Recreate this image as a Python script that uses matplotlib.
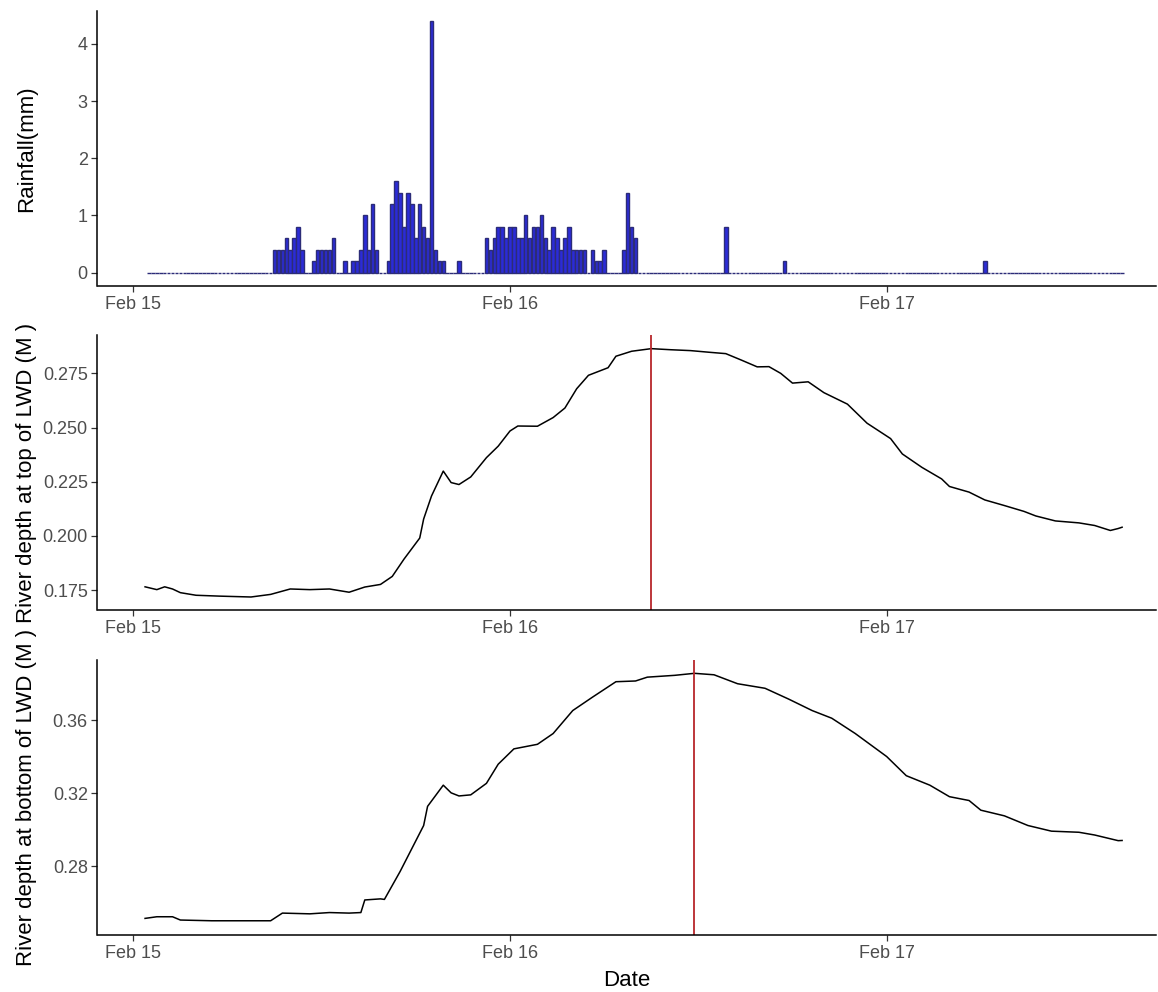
import matplotlib
matplotlib.use('Agg')
import matplotlib.pyplot as plt
import matplotlib.dates as mdates
import pandas as pd

plt.rcParams['font.family'] = ['Liberation Sans', 'DejaVu Sans']

# rainfall, 15 min totals (mm), logger record from 01:00 Feb 15 to 15:00 Feb 17
rain_first = '2019-02-15 01:00'
rain_last = '2019-02-17 15:00'
burst_starts = ['2019-02-15 09:00', '2019-02-15 11:30', '2019-02-15 13:30',
                '2019-02-15 16:15', '2019-02-15 20:45', '2019-02-15 22:30',
                '2019-02-16 07:15', '2019-02-16 13:45', '2019-02-16 17:30',
                '2019-02-17 06:15']
burst_values = [
    [0.4, 0.4, 0.4, 0.6, 0.4, 0.6, 0.8, 0.4],
    [0.2, 0.4, 0.4, 0.4, 0.4, 0.6],
    [0.2, 0, 0.2, 0.2, 0.4, 1.0, 0.4, 1.2, 0.4],
    [0.2, 1.2, 1.6, 1.4, 0.8, 1.4, 1.2, 0.6, 1.2, 0.8, 0.6, 4.4, 0.4, 0.2, 0.2],
    [0.2],
    [0.6, 0.4, 0.6, 0.8, 0.8, 0.6, 0.8, 0.8, 0.6, 0.6, 1.0, 0.6, 0.8, 0.8, 1.0,
     0.6, 0.4, 0.8, 0.6, 0.4, 0.6, 0.8, 0.4, 0.4, 0.4, 0.4, 0, 0.4, 0.2, 0.2, 0.4],
    [0.4, 1.4, 0.8, 0.6],
    [0.8],
    [0.2],
    [0.2],
]

# river depth at top of LWD, hours after Feb 15 00:00
top_hours = [0.75, 1.5, 2.0, 2.5, 3.0, 4.0, 5.5, 7.5, 8.75, 10.0, 11.25, 12.5, 13.75,
             14.75, 15.75, 16.5, 17.25, 18.25, 18.5, 19.0, 19.75, 20.25, 20.75, 21.5,
             22.5, 23.25, 24.0, 24.5, 25.75, 26.75, 27.5, 28.25, 29.0, 30.25, 30.75,
             31.75, 33.0, 34.25, 35.5, 36.75, 37.75, 38.75, 39.75, 40.5, 41.25, 42.0,
             43.0, 44.0, 45.5, 46.75, 48.25, 49.0, 50.25, 51.5, 52.0, 53.25, 54.25,
             55.5, 56.75, 57.5, 58.75, 60.25, 61.25, 62.25, 62.75, 63.0]
top_depth = [0.1765, 0.1752, 0.1765, 0.1755, 0.1738, 0.1726, 0.1722, 0.1718, 0.1730,
             0.1755, 0.1752, 0.1755, 0.1740, 0.1764, 0.1776, 0.1813, 0.1893, 0.1990,
             0.2078, 0.2184, 0.2299, 0.2246, 0.2237, 0.2272, 0.2361, 0.2414, 0.2484,
             0.2507, 0.2506, 0.2546, 0.2590, 0.2679, 0.2741, 0.2776, 0.2829, 0.2852,
             0.2864, 0.2859, 0.2855, 0.2847, 0.2841, 0.2811, 0.2780, 0.2781, 0.2750,
             0.2705, 0.2711, 0.2661, 0.2608, 0.2520, 0.2449, 0.2378, 0.2316, 0.2263,
             0.2228, 0.2202, 0.2166, 0.2140, 0.2113, 0.2092, 0.2069, 0.2060, 0.2048,
             0.2025, 0.2034, 0.2040]

# river depth at bottom of LWD
bot_hours = [0.75, 1.5, 2.5, 3.0, 5.0, 8.75, 9.5, 11.25, 12.5, 13.75, 14.5, 14.75,
             15.75, 16.0, 17.0, 17.75, 18.5, 18.75, 19.75, 20.25, 20.75, 21.5, 22.5,
             23.25, 24.25, 25.75, 26.75, 28.0, 29.25, 30.75, 32.0, 32.75, 34.5, 35.75,
             37.0, 38.5, 40.25, 41.75, 43.25, 44.5, 46.0, 48.0, 49.25, 50.75, 52.0,
             53.25, 54.0, 55.5, 57.0, 58.5, 60.25, 61.25, 62.75, 63.0]
bot_depth = [0.2513, 0.2522, 0.2522, 0.2504, 0.2500, 0.2500, 0.2542, 0.2538, 0.2545,
             0.2542, 0.2545, 0.2614, 0.2620, 0.2617, 0.2770, 0.2896, 0.3022, 0.3127,
             0.3243, 0.3201, 0.3184, 0.3190, 0.3253, 0.3358, 0.3442, 0.3467, 0.3526,
             0.3652, 0.3725, 0.3810, 0.3814, 0.3835, 0.3845, 0.3856, 0.3848, 0.3799,
             0.3774, 0.3715, 0.3652, 0.3610, 0.3526, 0.3400, 0.3295, 0.3243, 0.3180,
             0.3159, 0.3106, 0.3075, 0.3022, 0.2991, 0.2985, 0.2970, 0.2939, 0.2940]

# time of peak depth (red marker)
top_peak = '2019-02-16 09:00'
bot_peak = '2019-02-16 11:45'

day0 = pd.Timestamp('2019-02-15')

idx = pd.date_range(rain_first, rain_last, freq='15min')
rain = pd.Series(0.0, index=idx)
for start, vals in zip(burst_starts, burst_values):
    i0 = idx.get_loc(pd.Timestamp(start))
    rain.iloc[i0:i0 + len(vals)] = vals

top_t = day0 + pd.to_timedelta(top_hours, unit='h')
bot_t = day0 + pd.to_timedelta(bot_hours, unit='h')

W, H = 1158, 992
fig = plt.figure(figsize=(W / 100, H / 100), dpi=100)

left = 97.5 / W
width = (1156 - 97.5) / W
def add_panel(top_px, bot_px):
    return fig.add_axes([left, 1 - bot_px / H, width, (bot_px - top_px) / H])

ax1 = add_panel(11, 286)
ax2 = add_panel(335, 610)
ax3 = add_panel(660, 935)

d0 = mdates.date2num(day0)
bw = 0.9 * 15 / 1440
ax1.bar(mdates.date2num(rain.index), rain.values, width=bw,
        color='#2b2bd8', edgecolor='#2c2c78', linewidth=1.0)
ax1.set_ylim(-0.2325, 4.575)
ax1.set_yticks([0, 1, 2, 3, 4])
ax1.set_ylabel('Rainfall(mm)')

ax2.plot(mdates.date2num(top_t), top_depth, color='black', linewidth=1.1)
ax2.axvline(mdates.date2num(pd.Timestamp(top_peak)), color='#b8262b', linewidth=1.3)
ax2.set_ylim(0.1658, 0.2927)
ax2.set_yticks([0.175, 0.2, 0.225, 0.25, 0.275])
ax2.set_yticklabels(['0.175', '0.200', '0.225', '0.250', '0.275'])
ax2.set_ylabel('River depth at top of LWD (M )')

ax3.plot(mdates.date2num(bot_t), bot_depth, color='black', linewidth=1.1)
ax3.axvline(mdates.date2num(pd.Timestamp(bot_peak)), color='#b8262b', linewidth=1.3)
ax3.set_ylim(0.2422, 0.3929)
ax3.set_yticks([0.28, 0.32, 0.36])
ax3.set_yticklabels(['0.28', '0.32', '0.36'])
ax3.set_ylabel('River depth at bottom of LWD (M )')
ax3.set_xlabel('Date', fontsize=16)
ax3.xaxis.set_label_coords(0.5, -0.128)

for ax in (ax1, ax2, ax3):
    ax.set_xlim(d0 - 0.095, d0 + 2.715)
    ax.set_xticks([d0, d0 + 1, d0 + 2])
    ax.xaxis.set_major_formatter(mdates.DateFormatter('%b %d'))
    for s in ('top', 'right'):
        ax.spines[s].set_visible(False)
    for s in ('left', 'bottom'):
        ax.spines[s].set_linewidth(1.1)
    ax.tick_params(length=4, width=0.9, color='#333333', labelcolor='#4d4d4d',
                   labelsize=13, pad=3)
    ax.yaxis.label.set_size(16)
    ax.yaxis.set_label_coords(-0.057, 0.5)

fig.savefig('out.png', dpi=100)
